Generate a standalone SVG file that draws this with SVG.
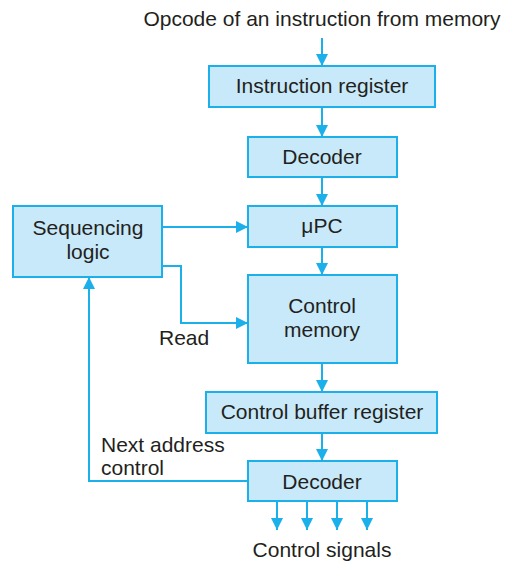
<svg xmlns="http://www.w3.org/2000/svg" width="506" height="562" viewBox="0 0 506 562">
  <style>
    .box { fill: #c8e9f9; stroke: #1bb0ea; stroke-width: 2; }
    .lbl { font-family: "Liberation Sans", Arial, sans-serif; font-size: 21px; fill: #231f20; }
    .mid { text-anchor: middle; }
    .wire { fill: none; stroke: #1bb0ea; stroke-width: 2; }
  </style>
  <defs>
    <marker id="head" viewBox="0 0 12 12" refX="12" refY="6" markerWidth="12" markerHeight="12" markerUnits="userSpaceOnUse" orient="auto">
      <path d="M0,0 L12,6 L0,12 Z" fill="#1bb0ea"/>
    </marker>
  </defs>
  <rect width="506" height="562" fill="#ffffff"/>

  <text class="lbl mid" x="322" y="26">Opcode of an instruction from memory</text>

  <g id="connectors">
    <path class="wire" d="M322,38 V66" marker-end="url(#head)"/>
    <path class="wire" d="M322,107 V137" marker-end="url(#head)"/>
    <path class="wire" d="M322,177 V206" marker-end="url(#head)"/>
    <path class="wire" d="M322,247 V275" marker-end="url(#head)"/>
    <path class="wire" d="M322,363 V392" marker-end="url(#head)"/>
    <path class="wire" d="M322,433 V461" marker-end="url(#head)"/>
    <path class="wire" d="M162,227 H248" marker-end="url(#head)"/>
    <path class="wire" d="M162,266 H181 V323 H248" marker-end="url(#head)"/>
    <path class="wire" d="M248,481 H89 V277" marker-end="url(#head)"/>
    <path class="wire" d="M277,501 V530" marker-end="url(#head)"/>
    <path class="wire" d="M307,501 V530" marker-end="url(#head)"/>
    <path class="wire" d="M337,501 V530" marker-end="url(#head)"/>
    <path class="wire" d="M367,501 V530" marker-end="url(#head)"/>
  </g>

  <g id="instruction-register">
    <rect class="box" x="209" y="66" width="226" height="41"/>
    <text class="lbl mid" x="322" y="93">Instruction register</text>
  </g>
  <g id="decoder-1">
    <rect class="box" x="248" y="137" width="149" height="40"/>
    <text class="lbl mid" x="322" y="164">Decoder</text>
  </g>
  <g id="upc">
    <rect class="box" x="248" y="206" width="149" height="41"/>
    <text class="lbl mid" x="322" y="233">μPC</text>
  </g>
  <g id="sequencing-logic">
    <rect class="box" x="13" y="206" width="149" height="71"/>
    <text class="lbl mid" x="88" y="235">Sequencing</text>
    <text class="lbl mid" x="88" y="259">logic</text>
  </g>
  <g id="control-memory">
    <rect class="box" x="248" y="275" width="149" height="88"/>
    <text class="lbl mid" x="322" y="313">Control</text>
    <text class="lbl mid" x="322" y="337">memory</text>
  </g>
  <g id="control-buffer-register">
    <rect class="box" x="206" y="392" width="231" height="41"/>
    <text class="lbl mid" x="322" y="419">Control buffer register</text>
  </g>
  <g id="decoder-2">
    <rect class="box" x="248" y="461" width="149" height="40"/>
    <text class="lbl mid" x="322" y="489">Decoder</text>
  </g>

  <text class="lbl" x="159" y="345">Read</text>
  <text class="lbl" x="101" y="452">Next address</text>
  <text class="lbl" x="101" y="475">control</text>
  <text class="lbl mid" x="322" y="557">Control signals</text>
</svg>
